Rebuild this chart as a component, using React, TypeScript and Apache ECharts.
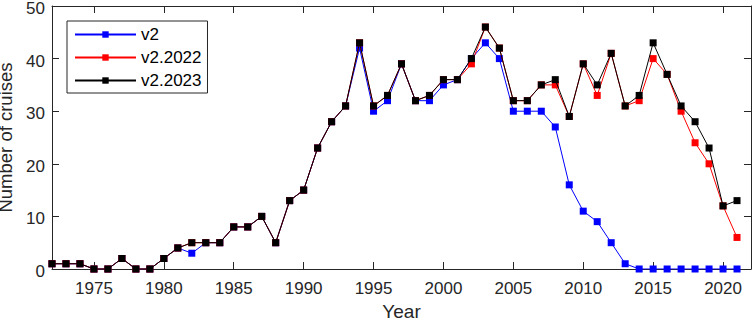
import React, { useEffect, useRef } from "react";
import * as echarts from "echarts";

const years: number[] = [];
for (let y = 1972; y <= 2021; y++) years.push(y);

// values per year 1972..2021
const v2023 = [
  1, 1, 1, 0, 0, 2, 0, 0, 2, 4,
  5, 5, 5, 8, 8, 10, 5, 13, 15, 23,
  28, 31, 43, 31, 33, 39, 32, 33, 36, 36,
  40, 46, 42, 32, 32, 35, 36, 29, 39, 35,
  41, 31, 33, 43, 37, 31, 28, 23, 12, 13,
];
const v2022 = [
  1, 1, 1, 0, 0, 2, 0, 0, 2, 4,
  5, 5, 5, 8, 8, 10, 5, 13, 15, 23,
  28, 31, 43, 31, 33, 39, 32, 33, 36, 36,
  39, 46, 42, 32, 32, 35, 35, 29, 39, 33,
  41, 31, 32, 40, 37, 30, 24, 20, 12, 6,
];
const v2 = [
  1, 1, 1, 0, 0, 2, 0, 0, 2, 4,
  3, 5, 5, 8, 8, 10, 5, 13, 15, 23,
  28, 31, 42, 30, 32, 39, 32, 32, 35, 36,
  40, 43, 40, 30, 30, 30, 27, 16, 11, 9,
  5, 1, 0, 0, 0, 0, 0, 0, 0, 0,
];
const xTicks = [1975, 1980, 1985, 1990, 1995, 2000, 2005, 2010, 2015, 2020];
const seriesNames = ["v2", "v2.2022", "v2.2023"];
const seriesColors = ["#0000ff", "#ff0000", "#000000"];

const FONT = "'Liberation Sans', Arial, Helvetica, sans-serif";
const AX = "#262626";

export default function App() {
  const ref = useRef<HTMLDivElement>(null);
  useEffect(() => {
    if (!ref.current) return;
    const chart = echarts.init(ref.current, undefined, { renderer: "svg" });
    const dataSets = [v2, v2022, v2023];
    const series = dataSets.map((vals, i) => ({
      name: seriesNames[i],
      type: "line",
      data: years.map((y, k) => [y, vals[k]]),
      symbol: "rect",
      symbolSize: 7,
      showAllSymbol: true,
      lineStyle: { color: seriesColors[i], width: 1 },
      itemStyle: { color: seriesColors[i] },
      z: 2 + i,
    }));
    const baseX = {
      type: "value",
      min: 1972,
      max: 2022,
      axisLine: { show: true, onZero: false, lineStyle: { color: AX, width: 1 } },
      splitLine: { show: false },
    };
    const baseY = {
      type: "value",
      min: 0,
      max: 50,
      interval: 10,
      axisLine: { show: true, onZero: false, lineStyle: { color: AX, width: 1 } },
      splitLine: { show: false },
    };
    chart.setOption({
      animation: false,
      backgroundColor: "#ffffff",
      textStyle: { fontFamily: FONT },
      grid: { left: 52, right: 1, top: 6, bottom: 54, containLabel: false, outerBoundsMode: "none" },
      legend: {
        orient: "vertical",
        left: 67,
        top: 21,
        data: seriesNames,
        itemWidth: 61,
        itemHeight: 8,
        itemGap: 6,
        padding: [5, 6, 4, 7],
        borderColor: AX,
        borderWidth: 1,
        backgroundColor: "#ffffff",
        textStyle: { fontFamily: FONT, fontSize: 17, color: "#000" },
      },
      xAxis: [
        {
          ...baseX,
          position: "bottom",
          name: "Year",
          nameLocation: "middle",
          nameGap: 33,
          nameTextStyle: { fontFamily: FONT, fontSize: 19, color: AX },
          axisTick: { show: true, inside: true, length: 7, customValues: xTicks, lineStyle: { color: AX } },
          axisLabel: {
            show: true,
            customValues: xTicks,
            margin: 11,
            fontSize: 17,
            color: AX,
            fontFamily: FONT,
            formatter: (v: number) => String(v),
          },
        },
        {
          ...baseX,
          position: "top",
          axisTick: { show: true, inside: true, length: 7, customValues: xTicks, lineStyle: { color: AX } },
          axisLabel: { show: false },
        },
      ],
      yAxis: [
        {
          ...baseY,
          position: "left",
          name: "Number of cruises",
          nameLocation: "middle",
          nameGap: 28,
          nameTextStyle: { fontFamily: FONT, fontSize: 18.5, lineHeight: 19, color: AX },
          axisTick: { show: true, inside: true, length: 7, lineStyle: { color: AX } },
          axisLabel: {
            show: true,
            margin: 7,
            color: AX,
            fontFamily: FONT,
            fontSize: 17,
            formatter: (v: number) => "{t|" + v + "}",
            rich: {
              t: { fontFamily: FONT, fontSize: 17, lineHeight: 17, color: AX, padding: [5, 0, 0, 0] },
            },
          },
        },
        {
          ...baseY,
          position: "right",
          axisTick: { show: true, inside: true, length: 7, lineStyle: { color: AX } },
          axisLabel: { show: false },
        },
      ],
      series,
    });
    return () => chart.dispose();
  }, []);
  return (
    <div
      ref={ref}
      style={{ position: "fixed", left: 0, top: 0, width: 752, height: 323, background: "#fff" }}
    />
  );
}
